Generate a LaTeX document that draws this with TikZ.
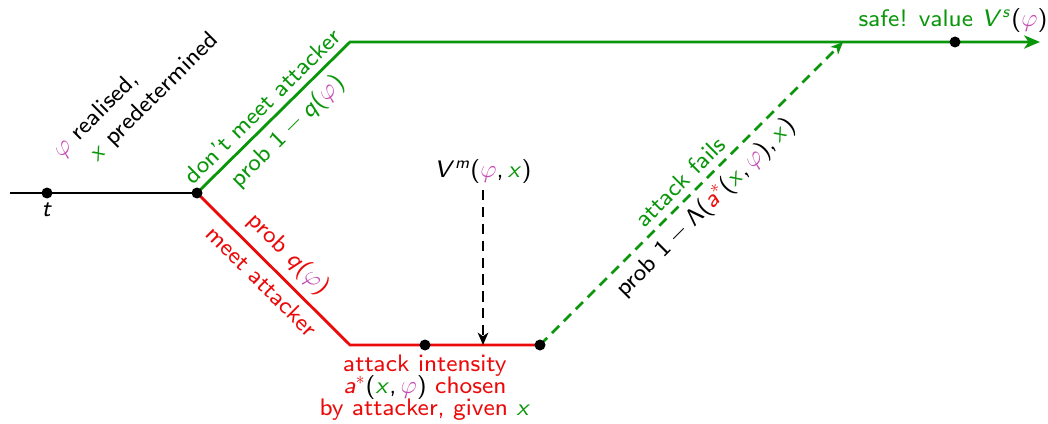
\documentclass[tikz,border=0pt]{standalone}
\usetikzlibrary{arrows.meta}
\DeclareFontFamily{OT1}{sfe}{}
\DeclareFontShape{OT1}{sfe}{m}{n}{<->cmss8}{}
\DeclareFontShape{OT1}{sfe}{m}{sl}{<->cmssi8}{}
\DeclareSymbolFont{sfops}{OT1}{sfe}{m}{n}
\DeclareSymbolFont{sfits}{OT1}{sfe}{m}{sl}
\DeclareMathSymbol{a}{\mathalpha}{sfits}{`a}
\DeclareMathSymbol{m}{\mathalpha}{sfits}{`m}
\DeclareMathSymbol{q}{\mathalpha}{sfits}{`q}
\DeclareMathSymbol{s}{\mathalpha}{sfits}{`s}
\DeclareMathSymbol{t}{\mathalpha}{sfits}{`t}
\DeclareMathSymbol{x}{\mathalpha}{sfits}{`x}
\DeclareMathSymbol{V}{\mathalpha}{sfits}{`V}
\DeclareMathSymbol{1}{\mathalpha}{sfops}{`1}
\DeclareMathSymbol{(}{\mathopen}{sfops}{`(}
\DeclareMathSymbol{)}{\mathclose}{sfops}{`)}
\DeclareMathSymbol{,}{\mathpunct}{sfops}{`,}
\DeclareMathSymbol{\Lambda}{\mathalpha}{sfops}{"03}
\definecolor{grn}{RGB}{10,150,10}
\definecolor{rd}{RGB}{235,10,10}
\definecolor{mag}{RGB}{196,76,178}
\newcommand{\phii}{{\color{mag}\varphi}}
\newcommand{\xx}{{\color{grn}x}}

\begin{document}
\begin{tikzpicture}[x=0.02cm, y=0.02cm,
        font=\fontencoding{OT1}\fontfamily{sfe}\fontsize{13.6}{15}\selectfont,
        dot/.style={circle, fill=black, inner sep=0pt, minimum size=0.22cm},
        solid line/.style={line width=1.6pt},
        dash line/.style={line width=1.6pt, dash pattern=on 5.8pt off 3.8pt},
        bigarrow/.style={-{Stealth[length=9pt, width=7.5pt, inset=2.5pt]}},
        smallarrow/.style={-{Stealth[length=7pt, width=6pt, inset=2pt]}},
        lbl/.style={sloped, inner sep=4pt}
    ]
        \useasboundingbox (0,0) rectangle (1048,423);

        \coordinate (start) at (10,230);
        \coordinate (pt) at (47,230);
        \coordinate (pb) at (197,230);
        \coordinate (gcorner) at (350,381);
        \coordinate (ps) at (955,381);
        \coordinate (gend) at (1040,381);
        \coordinate (rcorner) at (350,78);
        \coordinate (pc) at (425,78);
        \coordinate (hit) at (483,78);
        \coordinate (pa) at (540,78);
        \coordinate (fail) at (843,381);

        \node (vm) at (483,251) {$V^m(\phii,\xx)$};
        \node[rotate=45, anchor=base west] (realised) at (57,260) {$\phii$ realised,};
        \node[rotate=45, anchor=base west] (predet) at (93,256) {$\xx$ predetermined};

        \draw[solid line] (start) -- (pb);
        \draw[solid line, grn, bigarrow] (pb) -- node[lbl, above] (dontmeet) {don't meet attacker}
              node[lbl, below] (probnot) {prob $1-q(\phii)$} (gcorner) -- (gend);
        \draw[solid line, rd] (pb) -- node[lbl, above] (probq) {prob $q(\phii)$}
              node[lbl, below] (meet) {meet attacker} (rcorner) -- (pa);
        \draw[dash line, smallarrow] (vm) -- (hit);
        \draw[dash line, grn, smallarrow] (pa) -- node[lbl, above] (fails) {attack fails}
              node[lbl, below, text=black] (probfail) {prob $1-\Lambda(\textcolor{rd}{a^*}(\xx,\phii),\xx)$} (fail);

        \node[dot] (tdot) at (pt) {};
        \node[dot] (branch) at (pb) {};
        \node[dot] (safe) at (ps) {};
        \node[dot] (choose) at (pc) {};
        \node[dot] (attack) at (pa) {};

        \node[below, inner sep=2pt] (tlbl) at (tdot.south) {$t$};
        \node[grn, anchor=base] (safelbl) at (953,396) {safe! value $V^s{\color{black}(}\phii{\color{black})}$};
        \node[rd, align=center, anchor=north] (intensity) at (425,74) {attack intensity\\[-2.6pt]
              \textcolor{black}{$\textcolor{rd}{a^*}(\xx,\phii)$} chosen\\[-2.6pt]
              by attacker, given $\xx$};
    \end{tikzpicture}
\end{document}
